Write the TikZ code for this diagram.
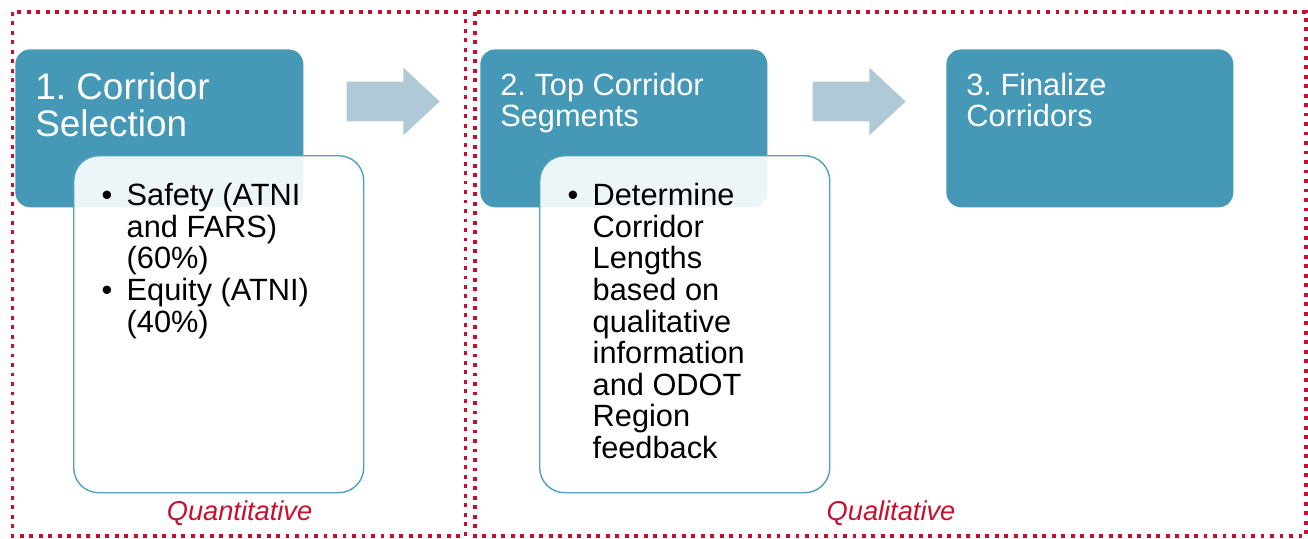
\documentclass[tikz,border=0pt]{standalone}
\usepackage{fontspec}
\setmainfont{Liberation Sans}
\usetikzlibrary{shapes.arrows,positioning,calc}

\definecolor{phaseblue}{RGB}{69,153,182}
\definecolor{edgeblue}{RGB}{78,160,190}
\definecolor{arrowgray}{RGB}{176,201,214}
\definecolor{framered}{RGB}{200,16,46}

\newcommand{\bitem}[1]{\par\hangindent=0.5cm\hangafter=1\noindent\makebox[0.5cm][l]{\textbullet}#1}

\begin{document}
\frenchspacing
\begin{tikzpicture}[
		phase/.style={rounded corners=0.3cm, fill=phaseblue, text=white, inner xsep=0.4cm, inner ysep=0.47cm, anchor=north west, font=\fontsize{17.5}{18}\selectfont},
		detail/.style={rounded corners=0.5cm, draw=edgeblue, line width=0.8pt, fill=white, fill opacity=0.9, text opacity=1, inner xsep=0.56cm, inner ysep=0.55cm, anchor=north west, font=\fontsize{17.5}{18}\selectfont},
		flow/.style={single arrow, fill=arrowgray, minimum height=1.86cm, minimum width=1.34cm, single arrow head extend=0.28cm, single arrow tip angle=86, inner xsep=0pt, inner ysep=0.39cm},
		stagebox/.style={draw=framered, line width=2.2pt, dash pattern=on 2.2pt off 3.2pt},
		kind/.style={text=framered, font=\fontsize{15.5}{16}\selectfont\itshape, anchor=base}
	]
		\useasboundingbox (0,0) rectangle (26.16,-10.76);
		% dotted stage frames
		\draw[stagebox] (0.25,-0.24) rectangle (9.31,-10.72);
		\draw[stagebox] (9.5,-0.24) rectangle (26.12,-10.72);
		% steps
		\node[phase] (sel) at (0.3,-0.98) {\parbox[c][2.22cm][t]{4.96cm}{\fontsize{21}{21}\selectfont 1. Corridor\\Selection}};
		\node[phase] (seg) at (9.6,-0.98) {\parbox[c][2.22cm][t]{4.94cm}{2. Top Corridor\\Segments}};
		\node[phase] (fin) at (18.92,-0.98) {\parbox[c][2.22cm][t]{4.94cm}{3. Finalize\\Corridors}};
		\node[flow] (a1) at (7.65,-2.03) {};
		\node[flow] (a2) at (16.97,-2.03) {};
		% details
		\node[detail] (crit) at ([shift={(1.16,-2.12)}]sel.north west) {\parbox[c][5.64cm][t]{4.68cm}{
			\bitem{Safety (ATNI\\and FARS)\\(60\%)}
			\bitem{Equity (ATNI)\\(40\%)}}};
		\node[detail] (len) at ([shift={(1.18,-2.12)}]seg.north west) {\parbox[c][5.64cm][t]{4.68cm}{
			\bitem{Determine\\Corridor\\Lengths\\based on\\qualitative\\information\\and ODOT\\Region\\feedback}}};
		\node[kind] (quant) at (4.79,-10.4) {Quantitative};
		\node[kind] (qual) at (17.82,-10.4) {Qualitative};
	\end{tikzpicture}
\end{document}
